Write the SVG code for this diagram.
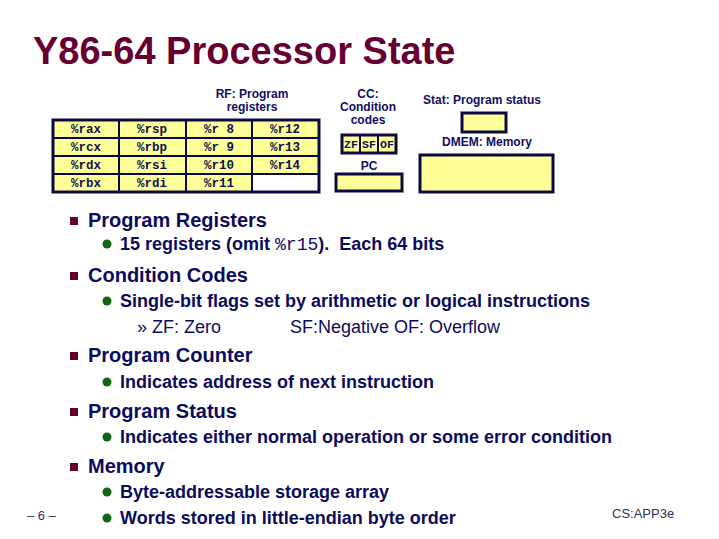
<svg xmlns="http://www.w3.org/2000/svg" width="719" height="539" viewBox="0 0 719 539">
<style>
.lbl{font-family:"Liberation Sans",Arial,sans-serif;font-size:12px;font-weight:bold;fill:#101060;text-anchor:middle}
.reg{font-family:"Liberation Mono","Courier New",monospace;font-size:12.5px;font-weight:bold;fill:#101050;text-anchor:middle}
.cc{font-family:"Liberation Mono","Courier New",monospace;font-size:11.5px;font-weight:bold;fill:#101050;text-anchor:middle}
.box{fill:#FFFF99;stroke:#0a0a40;stroke-width:3}
.grid{stroke:#0a0a40;stroke-width:2}
.h1{font-family:"Liberation Sans",Arial,sans-serif;font-size:20px;font-weight:bold;fill:#0c0c5c}
.h2{font-family:"Liberation Sans",Arial,sans-serif;font-size:18px;font-weight:bold;fill:#0c0c5c}
.h3{font-family:"Liberation Sans",Arial,sans-serif;font-size:18px;fill:#0c0c5c}
.sq{fill:#660033}
.dot{fill:#116611}
.foot{font-family:"Liberation Sans",Arial,sans-serif;font-size:13px;fill:#303060}
</style>
<rect width="719" height="539" fill="#ffffff"/>
<text x="33" y="64" font-family="Liberation Sans,Arial,sans-serif" font-size="38" font-weight="bold" fill="#660033">Y86-64 Processor State</text>

<g id="rf">
<text class="lbl" x="252" y="98">RF: Program</text>
<text class="lbl" x="252" y="111">registers</text>
<rect x="53" y="120" width="266" height="72" fill="#FFFF99"/>
<rect x="252" y="174" width="67" height="18" fill="#ffffff"/>
<g class="grid">
<line x1="53" y1="138" x2="319" y2="138"/>
<line x1="53" y1="156" x2="319" y2="156"/>
<line x1="53" y1="174" x2="319" y2="174"/>
<line x1="119" y1="120" x2="119" y2="192"/>
<line x1="186" y1="120" x2="186" y2="192"/>
<line x1="252" y1="120" x2="252" y2="192"/>
</g>
<rect x="53" y="120" width="266" height="72" fill="none" stroke="#0a0a40" stroke-width="3"/>
<text class="reg" x="86" y="133">%rax</text>
<text class="reg" x="86" y="151">%rcx</text>
<text class="reg" x="86" y="169">%rdx</text>
<text class="reg" x="86" y="187">%rbx</text>
<text class="reg" x="152" y="133">%rsp</text>
<text class="reg" x="152" y="151">%rbp</text>
<text class="reg" x="152" y="169">%rsi</text>
<text class="reg" x="152" y="187">%rdi</text>
<text class="reg" x="219" y="133">%r 8</text>
<text class="reg" x="219" y="151">%r 9</text>
<text class="reg" x="219" y="169">%r10</text>
<text class="reg" x="219" y="187">%r11</text>
<text class="reg" x="285" y="133">%r12</text>
<text class="reg" x="285" y="151">%r13</text>
<text class="reg" x="285" y="169">%r14</text>
</g>

<g id="cc">
<text class="lbl" x="368" y="98">CC:</text>
<text class="lbl" x="368" y="111">Condition</text>
<text class="lbl" x="368" y="124">codes</text>
<rect class="box" x="342" y="135" width="54" height="18"/>
<line class="grid" x1="360" y1="135" x2="360" y2="153"/>
<line class="grid" x1="378" y1="135" x2="378" y2="153"/>
<text class="cc" x="351" y="148">ZF</text>
<text class="cc" x="369" y="148">SF</text>
<text class="cc" x="387" y="148">OF</text>
</g>

<g id="pc">
<text class="lbl" x="369" y="170">PC</text>
<rect class="box" x="336" y="174" width="66" height="17"/>
</g>

<g id="stat">
<text class="lbl" x="482" y="104">Stat: Program status</text>
<rect class="box" x="462" y="113" width="44" height="19"/>
</g>

<g id="dmem">
<text class="lbl" x="487" y="146">DMEM: Memory</text>
<rect class="box" x="420" y="155" width="133" height="37"/>
</g>

<g id="bullets">
<rect class="sq" x="70" y="217" width="8" height="8"/>
<text class="h1" x="88" y="227">Program Registers</text>
<circle class="dot" cx="107" cy="244" r="4.5"/>
<text class="h2" x="120" y="250" xml:space="preserve">15 registers (omit <tspan font-family="Liberation Mono,Courier New,monospace" font-weight="normal">%r15</tspan>).  Each 64 bits</text>

<rect class="sq" x="70" y="272" width="8" height="8"/>
<text class="h1" x="88" y="282">Condition Codes</text>
<circle class="dot" cx="107" cy="301" r="4.5"/>
<text class="h2" x="120" y="307">Single-bit flags set by arithmetic or logical instructions</text>
<text class="h3" x="137" y="333">» ZF: Zero</text>
<text class="h3" x="290" y="333">SF:Negative OF: Overflow</text>

<rect class="sq" x="70" y="352" width="8" height="8"/>
<text class="h1" x="88" y="362">Program Counter</text>
<circle class="dot" cx="107" cy="382" r="4.5"/>
<text class="h2" x="120" y="388">Indicates address of next instruction</text>

<rect class="sq" x="70" y="408" width="8" height="8"/>
<text class="h1" x="88" y="418">Program Status</text>
<circle class="dot" cx="107" cy="437" r="4.5"/>
<text class="h2" x="120" y="443">Indicates either normal operation or some error condition</text>

<rect class="sq" x="70" y="463" width="8" height="8"/>
<text class="h1" x="88" y="473">Memory</text>
<circle class="dot" cx="107" cy="492" r="4.5"/>
<text class="h2" x="120" y="498">Byte-addressable storage array</text>
<circle class="dot" cx="107" cy="518" r="4.5"/>
<text class="h2" x="120" y="524">Words stored in little-endian byte order</text>
</g>

<text class="foot" x="27" y="520" font-size="12">– 6 –</text>
<text class="foot" x="612" y="518">CS:APP3e</text>
</svg>
